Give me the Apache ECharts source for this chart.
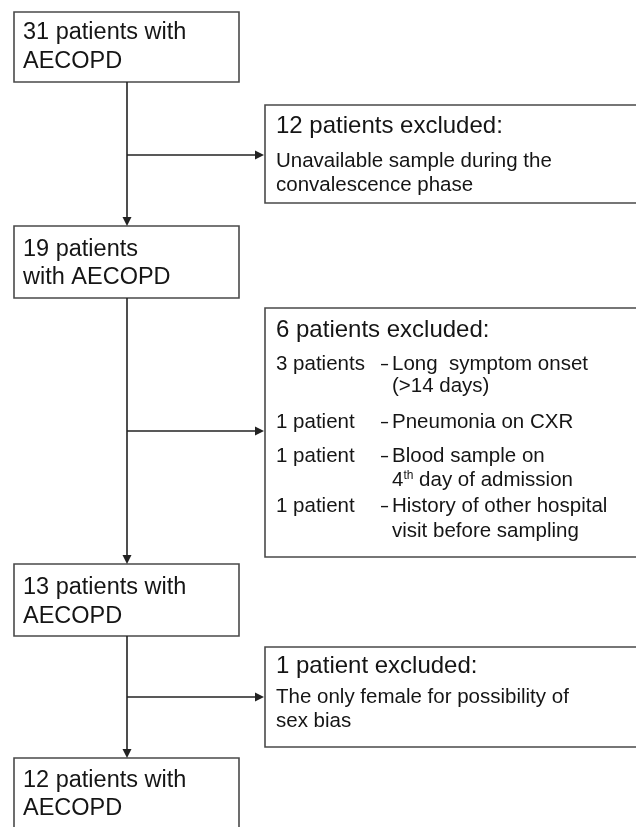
<!DOCTYPE html>
<html><head><meta charset="utf-8">
<script src="https://cdn.jsdelivr.net/npm/echarts@6/dist/echarts.min.js"></script>
<style>html,body{margin:0;padding:0;background:#fff}#c{width:636px;height:827px}</style>
</head><body><div id="c"></div>
<script>
// ---- content (data) ----
const mainCounts = [31, 19, 13, 12];
const mainLines = [
  ['31 patients with', 'AECOPD'],
  ['19 patients', 'with AECOPD'],
  ['13 patients with', 'AECOPD'],
  ['12 patients with', 'AECOPD']
];
const excludedCounts = [12, 6, 1];
const excludedTitles = ['12 patients excluded:', '6 patients excluded:', '1 patient excluded:'];
const excludedNotes = [
  ['Unavailable sample during the', 'convalescence phase'],
  [],
  ['The only female for possibility of', 'sex bias']
];
const reasonCounts = ['3 patients', '1 patient', '1 patient', '1 patient'];
const reasonLines = [
  ['Long  symptom onset', '(>14 days)'],
  ['Pneumonia on CXR'],
  ['Blood sample on', '4^th^ day of admission'],
  ['History of other hospital', 'visit before sampling']
];

// ---- layout (positions in the hidden 636x827 coordinate system) ----
const LAYOUT = {
  mainX: [14, 239],
  mainY: [[12, 82], [226, 298], [564, 636], [758, 831]],
  mainBase: [[39, 68], [256, 284], [594, 623], [787, 815]],
  mainTextX: 23,
  exX: [265, 700],
  exY: [[105, 203], [308, 557], [647, 747]],
  exTitleBase: [133, 337, 673],
  exNoteBase: [[167, 191], [], [703, 727]],
  exTextX: 276,
  reasonBase: [[370, 392], [428], [462, 486], [512, 537]],
  dashX: 381, descX: 392,
  trunkX: 127, branchY: [155, 431, 697]
};
const FONT_FAMILY = '"Liberation Sans", Arial, Helvetica, sans-serif';
const FS_MAIN = 23.5, FS_TITLE = 24, FS_ITEM = 20.5, FS_SUP = 12;
const TEXT_COLOR = '#151515', BOX_COLOR = '#4a4a4a', LINE_COLOR = '#222';

const measureCtx = document.createElement('canvas').getContext('2d');
function textWidth(t, fs) { measureCtx.font = fs + 'px ' + FONT_FAMILY; return measureCtx.measureText(t).width; }

function txt(api, x, base, text, fs, extra, scaleX) {
  const p = api.coord([x, base - 0.26 * fs]);
  const el = {
    type: 'text', x: p[0], y: p[1],
    style: Object.assign({
      text: text, font: fs + 'px ' + FONT_FAMILY, fill: TEXT_COLOR,
      align: 'left', textAlign: 'left', verticalAlign: 'middle', textVerticalAlign: 'middle'
    }, extra || {})
  };
  if (scaleX) el.scaleX = scaleX;
  return el;
}
function rect(api, x0, y0, x1, y1) {
  const a = api.coord([x0, y0]), b = api.coord([x1, y1]);
  return { type: 'rect', shape: { x: a[0], y: a[1], width: b[0] - a[0], height: b[1] - a[1] },
    style: { fill: '#fff', stroke: BOX_COLOR, lineWidth: 1.6 } };
}
function line(api, x0, y0, x1, y1) {
  const a = api.coord([x0, y0]), b = api.coord([x1, y1]);
  return { type: 'line', shape: { x1: a[0], y1: a[1], x2: b[0], y2: b[1] },
    style: { stroke: LINE_COLOR, lineWidth: 1.6 } };
}
function arrowHead(api, x, y, dir) {
  const pts = dir === 'down'
    ? [[x - 4.5, y - 9], [x + 4.5, y - 9], [x, y]]
    : [[x - 9, y - 4.5], [x - 9, y + 4.5], [x, y]];
  return { type: 'polygon', shape: { points: pts.map(q => api.coord(q)) }, style: { fill: LINE_COLOR } };
}

// items: main boxes (m), excluded boxes (e), connectors (c)
const items = [];
mainCounts.forEach((c, i) => items.push({ kind: 'm', i: i, value: c }));
excludedCounts.forEach((c, i) => items.push({ kind: 'e', i: i, value: c }));
for (let i = 0; i < mainCounts.length - 1; i++) items.push({ kind: 'c', i: i, value: mainCounts[i] - mainCounts[i + 1] });

function renderItem(params, api) {
  const it = items[params.dataIndex];
  const L = LAYOUT;
  const children = [];
  if (it.kind === 'm') {
    const y = L.mainY[it.i];
    children.push(rect(api, L.mainX[0], y[0], L.mainX[1], y[1]));
    mainLines[it.i].forEach((t, k) => children.push(txt(api, L.mainTextX, L.mainBase[it.i][k], t, FS_MAIN)));
  } else if (it.kind === 'e') {
    const y = L.exY[it.i];
    children.push(rect(api, L.exX[0], y[0], L.exX[1], y[1]));
    children.push(txt(api, L.exTextX, L.exTitleBase[it.i], excludedTitles[it.i], FS_TITLE));
    excludedNotes[it.i].forEach((t, k) => children.push(txt(api, L.exTextX, L.exNoteBase[it.i][k], t, FS_ITEM)));
    if (it.i === 1) {
      reasonCounts.forEach((rc, r) => {
        const b0 = L.reasonBase[r][0];
        children.push(txt(api, L.exTextX, b0, rc, FS_ITEM));
        children.push(txt(api, L.dashX, b0, '\u2013', FS_ITEM, null, 0.62));
        reasonLines[r].forEach((t, k) => {
          const b = L.reasonBase[r][k];
          if (t.indexOf('^') >= 0) {
            const parts = t.split('^');
            let x = L.descX;
            parts.forEach((p, pi) => {
              if (pi === 1) {
                children.push(txt(api, x, b - 7, p, FS_SUP));
                x += textWidth(p, FS_SUP);
              } else {
                children.push(txt(api, x, b, p, FS_ITEM));
                x += textWidth(p, FS_ITEM);
              }
            });
          } else {
            children.push(txt(api, L.descX, b, t, FS_ITEM));
          }
        });
      });
    }
  } else {
    const top = L.mainY[it.i][1], bot = L.mainY[it.i + 1][0], by = L.branchY[it.i];
    children.push(line(api, L.trunkX, top, L.trunkX, bot - 6));
    children.push(arrowHead(api, L.trunkX, bot, 'down'));
    children.push(line(api, L.trunkX, by, L.exX[0] - 6, by));
    children.push(arrowHead(api, L.exX[0] - 1, by, 'right'));
  }
  return { type: 'group', children: children };
}

const chart = echarts.init(document.getElementById('c'), null, { renderer: 'canvas' });
chart.setOption({
  animation: false,
  backgroundColor: '#fff',
  grid: { left: 0, right: 0, top: 0, bottom: 0 },
  xAxis: { type: 'value', min: 0, max: 636, show: false },
  yAxis: { type: 'value', min: 0, max: 827, inverse: true, show: false },
  series: [{
    type: 'custom', clip: false, silent: true,
    renderItem: renderItem,
    encode: { x: 0, y: 1 },
    data: items.map((it, idx) => [idx, it.value])
  }]
});
</script>
</body></html>
